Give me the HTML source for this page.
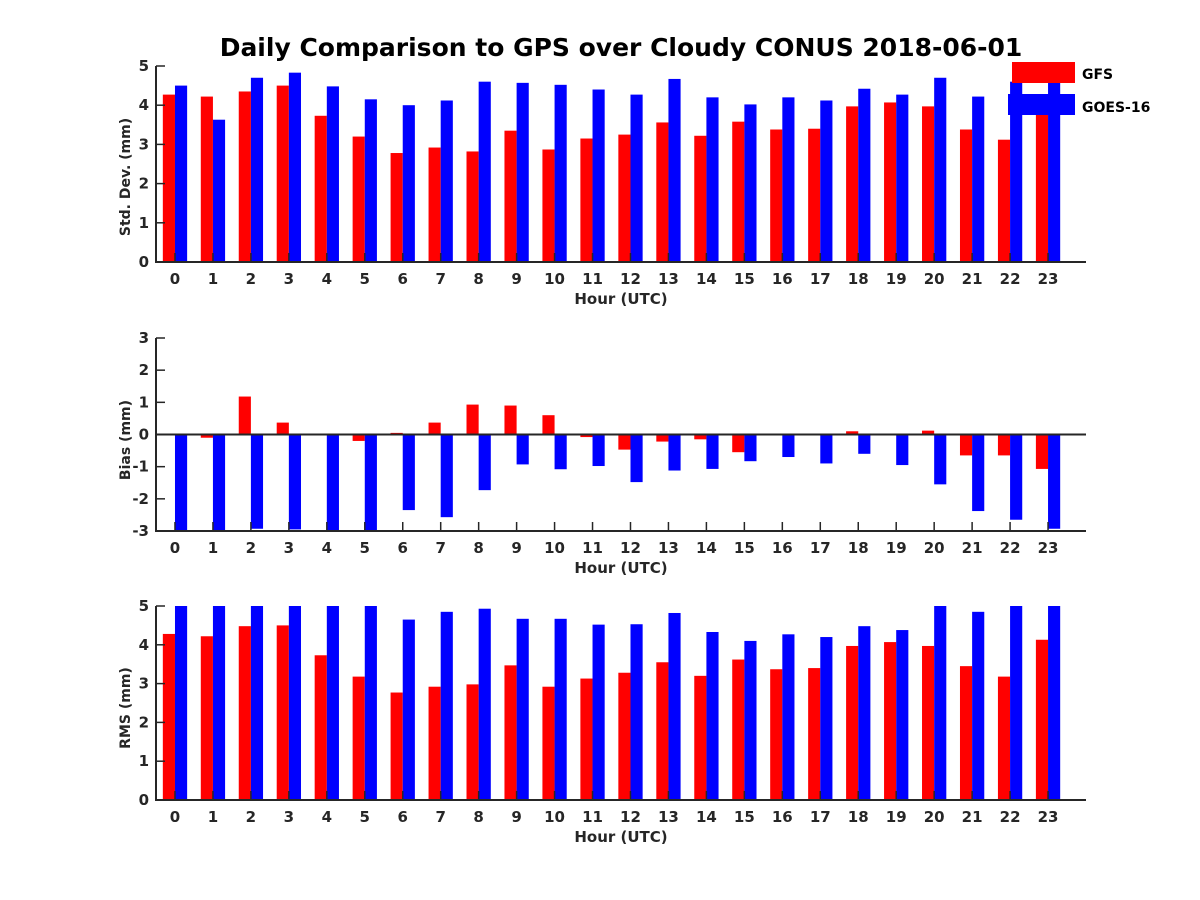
<!DOCTYPE html>
<html><head><meta charset="utf-8"><style>
html,body{margin:0;padding:0;background:#fff;}
svg{display:block;font-family:"DejaVu Sans","Liberation Sans",sans-serif;}
text{font-weight:bold;fill:#262626;}
</style></head><body>
<svg id="chart" width="1200" height="900" viewBox="0 0 1200 900">
<rect width="1200" height="900" fill="#fff"/>
<text x="621" y="56" text-anchor="middle" font-size="25" style="fill:#000">Daily Comparison to GPS over Cloudy CONUS 2018-06-01</text>
<g id="plots"></g>
<g>
<rect x="1012" y="62" width="63" height="21" fill="#ff0000"/>
<rect x="1008" y="94" width="67" height="21" fill="#0000ff"/>
<text x="1082" y="79" font-size="14" style="fill:#000">GFS</text>
<text x="1082" y="112" font-size="14" style="fill:#000">GOES-16</text>
</g>
</svg>
<script>
const hours = [0,1,2,3,4,5,6,7,8,9,10,11,12,13,14,15,16,17,18,19,20,21,22,23];
const stdGFS = [4.27,4.22,4.35,4.5,3.73,3.2,2.78,2.92,2.82,3.35,2.87,3.15,3.25,3.56,3.22,3.58,3.38,3.4,3.97,4.07,3.97,3.38,3.12,4.0];
const stdGOES = [4.5,3.63,4.7,4.83,4.48,4.15,4.0,4.12,4.6,4.57,4.52,4.4,4.27,4.67,4.2,4.02,4.2,4.12,4.42,4.27,4.7,4.22,4.6,4.6];
const biasGFS = [0,-0.1,1.18,0.37,0.03,-0.2,0.05,0.37,0.93,0.9,0.6,-0.08,-0.47,-0.22,-0.15,-0.55,0,0,0.1,0,0.12,-0.65,-0.65,-1.07];
const biasGOES = [-3.2,-3.2,-2.93,-2.95,-3.2,-3.2,-2.35,-2.57,-1.73,-0.93,-1.08,-0.98,-1.48,-1.12,-1.07,-0.83,-0.7,-0.9,-0.6,-0.95,-1.55,-2.38,-2.65,-2.93];
const rmsGFS = [4.28,4.22,4.48,4.5,3.73,3.18,2.77,2.92,2.98,3.47,2.92,3.13,3.28,3.55,3.2,3.62,3.37,3.4,3.97,4.07,3.97,3.45,3.18,4.13];
const rmsGOES = [5.3,5.2,5.2,5.3,5.3,5.2,4.65,4.85,4.93,4.67,4.67,4.52,4.53,4.82,4.33,4.1,4.27,4.2,4.48,4.38,5.1,4.85,5.2,5.2];
const stdTicks = [0,1,2,3,4,5];
const biasTicks = [-3,-2,-1,0,1,2,3];
const rmsTicks = [0,1,2,3,4,5];

const NS = "http://www.w3.org/2000/svg";
const root = document.getElementById('plots');
const X0 = 156, X1 = 1086, XMIN = -0.5, XMAX = 24;
function xs(v){ return X0 + (v - XMIN) / (XMAX - XMIN) * (X1 - X0); }
function mk(tag, attrs, parent){
  const e = document.createElementNS(NS, tag);
  for (const k in attrs) e.setAttribute(k, attrs[k]);
  parent.appendChild(e); return e;
}
function panel(name, top, bottom, ymin, ymax, ticks, gfs, goes, ylabel, labelY){
  const g = mk('g', {}, root);
  
  
  const ys = v => bottom - (v - ymin) / (ymax - ymin) * (bottom - top);
  const clip = v => Math.max(ymin, Math.min(ymax, v));
  const bw = xs(0.32) - xs(0);
  hours.forEach((h, i) => {
    [[gfs[i], -0.32, '#ff0000', 'gfs'], [goes[i], 0, '#0000ff', 'goes16']].forEach(([v, off, col, s]) => {
      const base = ys(clip(0 < ymin ? ymin : 0));
      const y = ys(clip(v));
      const r = mk('rect', {x: xs(h + off), y: Math.min(y, base), width: bw, height: Math.abs(base - y), fill: col}, g);
      
      
    });
    const tk = mk('line', {x1: xs(h), x2: xs(h), y1: bottom, y2: bottom - 9, stroke: '#262626', 'stroke-width': 1.5}, g);
    
    
    const tl = mk('text', {x: xs(h), y: bottom + 22, 'text-anchor': 'middle', 'font-size': 15}, g);
    tl.textContent = h;
    
    
  });
  ticks.forEach(t => {
    const tk = mk('line', {x1: X0, x2: X0 + 9, y1: ys(t), y2: ys(t), stroke: '#262626', 'stroke-width': 1.5}, g);
    
    
    const tl = mk('text', {x: X0 - 7, y: ys(t) + 5, 'text-anchor': 'end', 'font-size': 15}, g);
    tl.textContent = t;
    
    
  });
  const ax = mk('path', {d: `M${X0},${top} L${X0},${bottom} L${X1},${bottom}`, fill: 'none', stroke: '#262626', 'stroke-width': 2}, g);
  
  
  if (ymin < 0) {
    const z = mk('line', {x1: X0, x2: X1, y1: ys(0), y2: ys(0), stroke: '#262626', 'stroke-width': 2}, g);
    
    
  }
  const xl = mk('text', {x: 621, y: bottom + 42, 'text-anchor': 'middle', 'font-size': 15}, g);
  xl.textContent = 'Hour (UTC)';
  
  
  const cy = labelY;
  const yl = mk('text', {x: 130, y: cy, 'text-anchor': 'middle', 'font-size': 14, transform: `rotate(-90 130 ${cy})`}, g);
  yl.textContent = ylabel;
  
  
}
panel('std-dev', 66, 262, 0, 5, stdTicks, stdGFS, stdGOES, 'Std. Dev. (mm)', 177);
panel('bias', 338, 531, -3, 3, biasTicks, biasGFS, biasGOES, 'Bias (mm)', 440);
panel('rms', 606, 800, 0, 5, rmsTicks, rmsGFS, rmsGOES, 'RMS (mm)', 708);
</script>
</body></html>
